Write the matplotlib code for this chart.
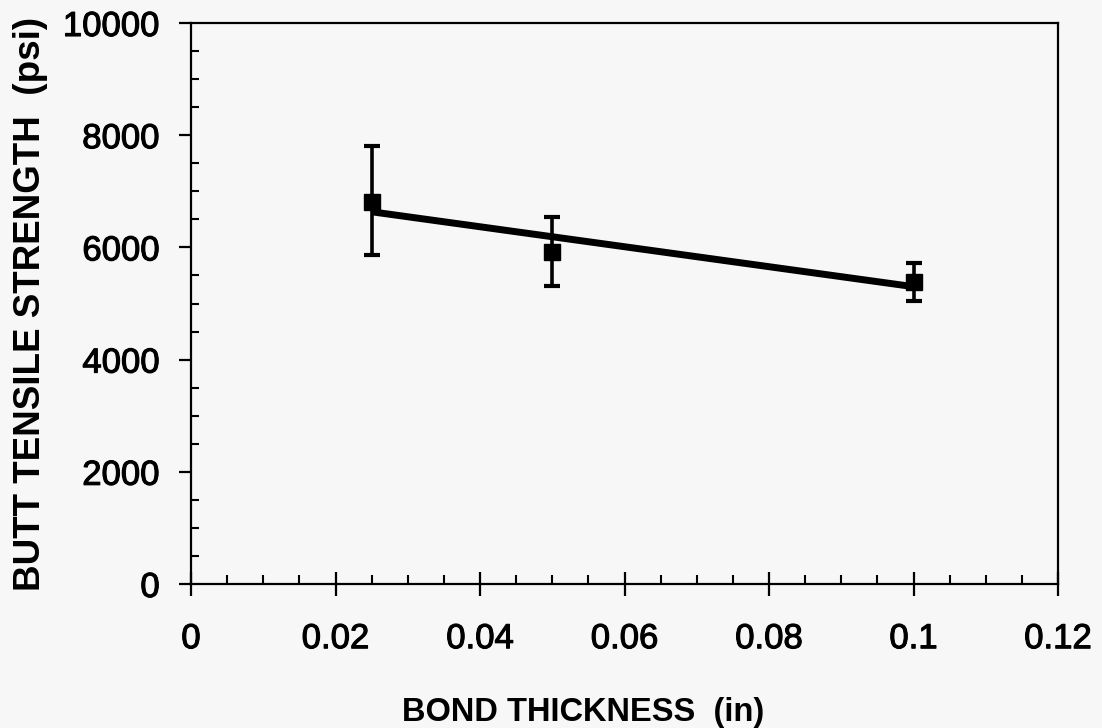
import numpy as np
import matplotlib
matplotlib.use("Agg")
import matplotlib.pyplot as plt
import matplotlib.patheffects as pe
from matplotlib.ticker import MultipleLocator, FixedLocator

# Data
thickness = [0.025, 0.05, 0.1]
strength = [6815, 5920, 5390]
err_high = [7800, 6540, 5730]
err_low = [5860, 5320, 5045]

x_ticks = [0, 0.02, 0.04, 0.06, 0.08, 0.1, 0.12]
x_tick_labels = ["0", "0.02", "0.04", "0.06", "0.08", "0.1", "0.12"]
y_ticks = [0, 2000, 4000, 6000, 8000, 10000]
y_tick_labels = ["0", "2000", "4000", "6000", "8000", "10000"]

x_label = "BOND THICKNESS  (in)"
y_label = "BUTT TENSILE STRENGTH  (psi)"

bg = "#f7f7f7"
plt.rcParams['font.family'] = ['Liberation Sans', 'DejaVu Sans']

fig = plt.figure(figsize=(11.02, 7.28), dpi=100, facecolor=bg)
ax = fig.add_axes([191/1102, 1-584/728, (1058-191)/1102, (584-23)/728])
ax.set_facecolor(bg)

yerr = [np.array(strength) - np.array(err_low), np.array(err_high) - np.array(strength)]
ax.errorbar(thickness, strength, yerr=yerr, fmt='s', color='black', ms=11,
            elinewidth=2.6, capsize=6, capthick=3, zorder=3)

# linear trend line
coef = np.polyfit(thickness, strength, 1)
xt = np.array([min(thickness), max(thickness)])
ax.plot(xt, np.polyval(coef, xt), color='black', lw=5, solid_capstyle='butt', zorder=2)

ax.set_xlim(0, 0.12)
ax.set_ylim(0, 10000)
ax.xaxis.set_major_locator(FixedLocator(x_ticks))
ax.set_xticklabels(x_tick_labels)
ax.yaxis.set_major_locator(FixedLocator(y_ticks))
ax.set_yticklabels(y_tick_labels)
ax.xaxis.set_minor_locator(MultipleLocator(0.005))
ax.yaxis.set_minor_locator(MultipleLocator(500))

for s in ax.spines.values():
    s.set_linewidth(1.6)

ax.tick_params(axis='x', which='major', direction='inout', length=17, width=1.6,
               labelsize=25, pad=19)
ax.tick_params(axis='x', which='minor', direction='in', length=6.5, width=1.5)
ax.tick_params(axis='y', which='major', direction='out', length=8.5, width=1.6,
               labelsize=25, pad=14)
ax.tick_params(axis='y', which='minor', direction='in', length=6, width=1.5)

thick = [pe.withStroke(linewidth=0.8, foreground='black')]
for lbl in ax.get_xticklabels() + ax.get_yticklabels():
    lbl.set_path_effects(thick)

fig.text(583/1102, 1-721/728, x_label, ha='center', va='baseline',
         fontsize=23.5, fontweight='bold')
fig.text(13/1102, 1-303.5/728, y_label, ha='left', va='center', rotation=90,
         fontsize=26.5, fontweight='bold')

fig.savefig("out.png", dpi=100, facecolor=bg)
